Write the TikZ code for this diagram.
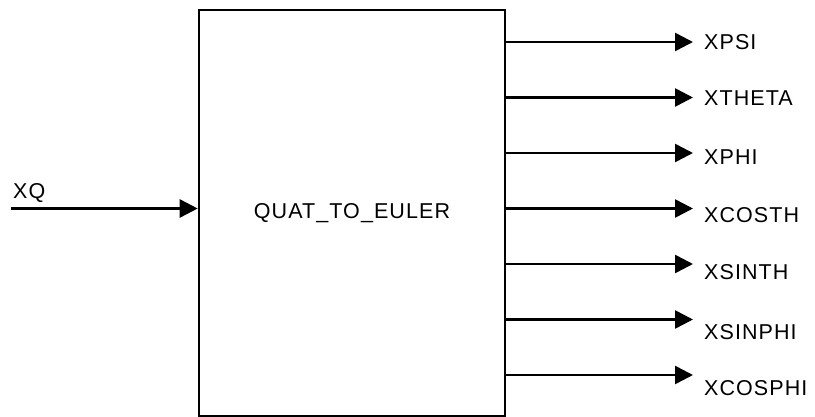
\documentclass[tikz,border=0pt]{standalone}
\usepackage{fontspec}
\setmainfont{Liberation Sans}
\newfontfamily\sigfont[LetterSpace=5]{Liberation Sans}
\usetikzlibrary{arrows.meta}

\begin{document}
\begin{tikzpicture}[x=1pt, y=-1pt,
    sig/.style={line width=2.6pt, -{Triangle[length=18pt, width=18pt]}},
    lbl/.style={anchor=west, inner sep=0pt, font=\sigfont\fontsize{21.5}{25}\selectfont},
    block/.style={draw, line width=2.6pt, inner sep=0pt, font=\sigfont\fontsize{21.5}{25}\selectfont}]

    \useasboundingbox (0,0) rectangle (815,417);

    % Block
    \node[block, minimum width=306pt, minimum height=406pt] (qte) at (352,213) {QUAT\_TO\_EULER};

    % Input
    \coordinate (xqin) at (11,208.5);
    \node[lbl] (xq) at (13,193) {XQ};
    \draw[sig] (xqin) -- (qte.west |- xqin);

    % Outputs: name/text/arrow y/label y
    \foreach \nm/\txt/\ly/\ty in {psi/XPSI/42/42, theta/XTHETA/97.5/98,
        phi/XPHI/153/157.5, costh/XCOSTH/208.5/215, sinth/XSINTH/264/272,
        sinphi/XSINPHI/319.5/332, cosphi/XCOSPHI/375/388} {
        \coordinate (tip\nm) at (693,\ly);
        \node[lbl] (out\nm) at (704,\ty) {\txt};
        \draw[sig] (qte.east |- tip\nm) -- (tip\nm);
    }

\end{tikzpicture}
\end{document}
